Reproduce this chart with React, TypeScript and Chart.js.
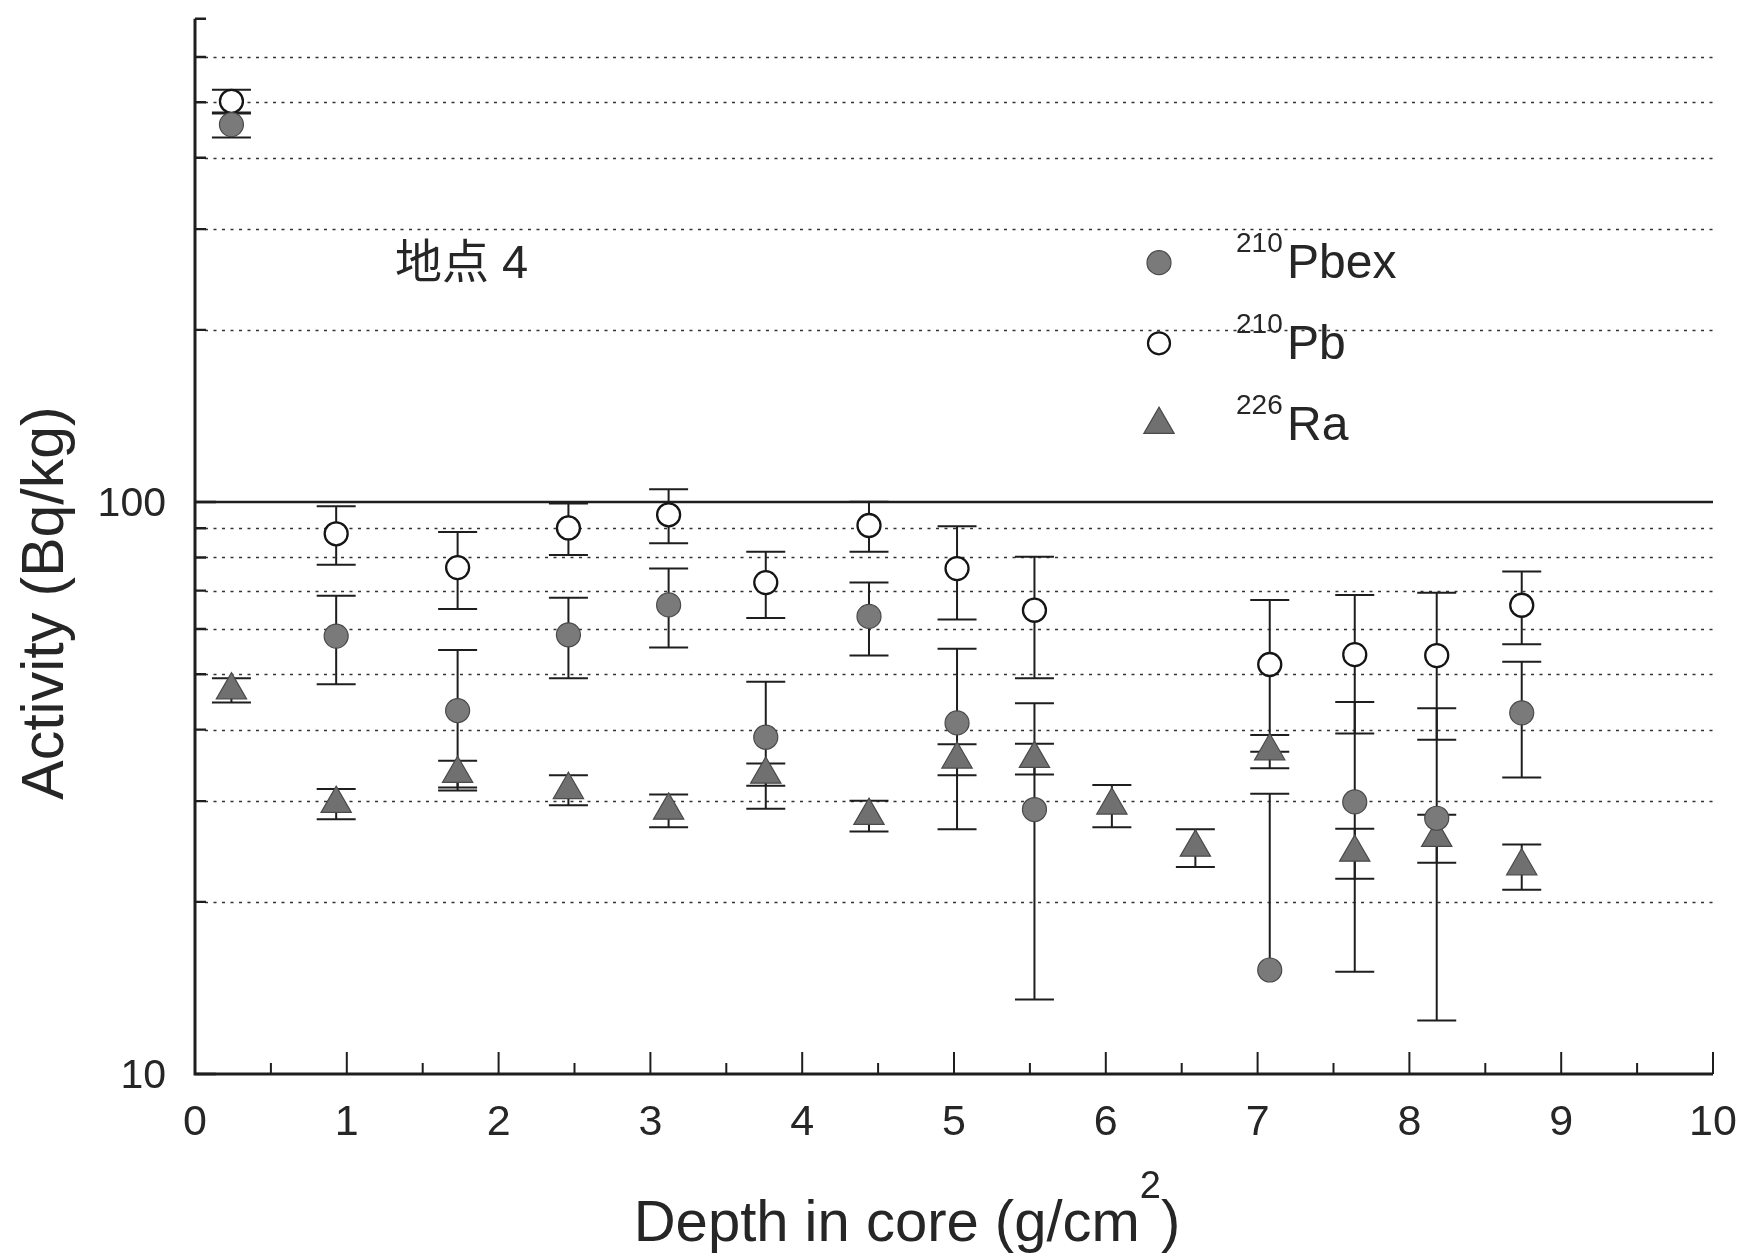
import React, { useEffect, useRef } from 'react';
import { Chart, registerables } from 'chart.js';

Chart.register(...registerables);

// ---- data ----
const depth = [0.24, 0.93, 1.73, 2.46, 3.12, 3.76, 4.44, 5.02, 5.53, 6.04, 6.59, 7.08, 7.64, 8.18, 8.74];
const pbex: (number | null)[] = [457, 58.3, 43.2, 58.6, 66.1, 38.8, 63.1, 41.1, 29.0, null, null, 15.2, 29.9, 28.0, 42.8];
const pbexErr: (number | null)[] = [23, 10.3, 11.9, 9.4, 10.4, 9.7, 9.2, 14.3, 15.5, null, null, 15.7, 14.8, 15.6, 9.8];
const pb: (number | null)[] = [502, 88.0, 76.8, 90.1, 95.0, 72.3, 91.0, 76.5, 64.7, null, null, 52.0, 54.1, 53.9, 66.0];
const pbErr: (number | null)[] = [24, 10.3, 11.8, 9.3, 10.3, 9.6, 9.1, 14.2, 15.5, null, null, 15.4, 14.7, 15.5, 9.6];
const ra: number[] = [46.9, 29.7, 33.5, 31.4, 28.9, 33.4, 28.3, 35.5, 35.6, 29.5, 24.9, 36.7, 24.4, 25.9, 23.1];
const raErr: number[] = [2.3, 1.8, 1.8, 1.9, 1.9, 1.5, 1.75, 2.2, 2.2, 2.5, 1.9, 2.45, 2.45, 2.5, 2.1];

const xMajorTicks = [0, 1, 2, 3, 4, 5, 6, 7, 8, 9, 10];
const xMinorTicks = [0.5, 1.5, 2.5, 3.5, 4.5, 5.5, 6.5, 7.5, 8.5, 9.5];
const yLabelTicks = [10, 100];
const yDottedGrid = [20, 30, 40, 50, 60, 70, 80, 90, 200, 300, 400, 500, 600];
const yMax = 700;

const seriesNames = ['Pbex', 'Pb', 'Ra'];
const seriesSup = ['210', '210', '226'];
const annotation = '地点 4';
const xTitle = 'Depth in core (g/cm';
const xTitleSup = '2';
const yTitle = 'Activity (Bq/kg)';

const FONT = "'Liberation Sans', Arial, Helvetica, sans-serif";
const INK = '#262626';
const FILL_GRAY = '#7a7a7a';
const TRI_GRAY = '#707070';

function build(vals: (number | null)[], errs: (number | null)[]) {
  const out: { x: number; y: number; e: number }[] = [];
  vals.forEach((v, i) => {
    if (v !== null) out.push({ x: depth[i], y: v, e: (errs[i] as number) || 0 });
  });
  return out;
}

function drawTriangle(ctx: CanvasRenderingContext2D, x: number, y: number, r: number) {
  let rad = 0;
  const t = (2 * Math.PI) / 3;
  ctx.beginPath();
  ctx.moveTo(x + Math.sin(rad) * r, y - Math.cos(rad) * r);
  rad += t;
  ctx.lineTo(x + Math.sin(rad) * r, y - Math.cos(rad) * r);
  rad += t;
  ctx.lineTo(x + Math.sin(rad) * r, y - Math.cos(rad) * r);
  ctx.closePath();
}

const decorPlugin = {
  id: 'decor',
  beforeDatasetsDraw(chart: any) {
    const ctx: CanvasRenderingContext2D = chart.ctx;
    const xs = chart.scales.x;
    const ys = chart.scales.y;
    const left = xs.getPixelForValue(0);
    const right = xs.getPixelForValue(10);
    const bottom = ys.getPixelForValue(10);
    const top = ys.getPixelForValue(yMax);
    ctx.save();

    // dotted grid
    ctx.strokeStyle = '#333333';
    ctx.lineWidth = 1.7;
    ctx.setLineDash([3, 5.5]);
    yDottedGrid.forEach((v) => {
      const y = Math.round(ys.getPixelForValue(v)) + 0.5;
      ctx.beginPath();
      ctx.moveTo(left + 10, y);
      ctx.lineTo(right, y);
      ctx.stroke();
    });
    ctx.setLineDash([]);
    // solid 100 line
    ctx.strokeStyle = '#1e1e1e';
    ctx.lineWidth = 2.4;
    const y100 = ys.getPixelForValue(100);
    ctx.beginPath();
    ctx.moveTo(left, y100);
    ctx.lineTo(right, y100);
    ctx.stroke();

    // error bars
    ctx.strokeStyle = '#1e1e1e';
    ctx.lineWidth = 2;
    const cap = 19.5;
    chart.data.datasets.forEach((ds: any) => {
      ds.data.forEach((p: any) => {
        if (!p.e) return;
        const px = xs.getPixelForValue(p.x);
        const hi = ys.getPixelForValue(p.y + p.e);
        const hasLow = p.y - p.e > 0;
        const lo = hasLow ? ys.getPixelForValue(p.y - p.e) : ys.getPixelForValue(p.y);
        ctx.beginPath();
        ctx.moveTo(px, hi);
        ctx.lineTo(px, lo);
        ctx.moveTo(px - cap, hi);
        ctx.lineTo(px + cap, hi);
        if (hasLow) {
          ctx.moveTo(px - cap, lo);
          ctx.lineTo(px + cap, lo);
        }
        ctx.stroke();
      });
    });

    // axes
    ctx.strokeStyle = '#1e1e1e';
    ctx.lineWidth = 3;
    ctx.beginPath();
    ctx.moveTo(left, top);
    ctx.lineTo(left, bottom);
    ctx.lineTo(right, bottom);
    ctx.stroke();

    // y ticks (inward)
    ctx.lineWidth = 2.4;
    ctx.beginPath();
    yDottedGrid.concat([yMax]).forEach((v) => {
      const y = ys.getPixelForValue(v);
      ctx.moveTo(left, y);
      ctx.lineTo(left + 11, y);
    });
    yLabelTicks.forEach((v) => {
      const y = ys.getPixelForValue(v);
      ctx.moveTo(left, y);
      ctx.lineTo(left + 21, y);
    });
    ctx.stroke();
    // x ticks (inward)
    ctx.lineWidth = 2;
    ctx.beginPath();
    xMajorTicks.forEach((v) => {
      if (v === 0) return;
      const x = xs.getPixelForValue(v);
      ctx.moveTo(x, bottom);
      ctx.lineTo(x, bottom - 22);
    });
    xMinorTicks.forEach((v) => {
      const x = xs.getPixelForValue(v);
      ctx.moveTo(x, bottom);
      ctx.lineTo(x, bottom - 11);
    });
    ctx.stroke();
    ctx.restore();
  },
  afterDatasetsDraw(chart: any) {
    const ctx: CanvasRenderingContext2D = chart.ctx;
    const xs = chart.scales.x;
    const ys = chart.scales.y;
    const left = xs.getPixelForValue(0);
    const bottom = ys.getPixelForValue(10);
    ctx.save();
    ctx.fillStyle = INK;

    // tick labels
    ctx.font = `43px ${FONT}`;
    ctx.textAlign = 'center';
    ctx.textBaseline = 'alphabetic';
    xMajorTicks.forEach((v) => {
      ctx.fillText(String(v), xs.getPixelForValue(v), bottom + 61);
    });
    ctx.font = `41px ${FONT}`;
    ctx.textAlign = 'right';
    yLabelTicks.forEach((v) => {
      ctx.fillText(String(v), left - 29, ys.getPixelForValue(v) + 14);
    });

    // x title with superscript
    ctx.textAlign = 'left';
    ctx.font = `58px ${FONT}`;
    const wMain = ctx.measureText(xTitle).width;
    const wParen = ctx.measureText(')').width;
    ctx.font = `38px ${FONT}`;
    const wSup = ctx.measureText(xTitleSup).width;
    const total = wMain + wSup + wParen;
    let tx = 907 - total / 2;
    ctx.font = `58px ${FONT}`;
    ctx.fillText(xTitle, tx, 1241);
    tx += wMain;
    ctx.font = `38px ${FONT}`;
    ctx.fillText(xTitleSup, tx, 1198);
    tx += wSup;
    ctx.font = `58px ${FONT}`;
    ctx.fillText(')', tx, 1241);

    // y title
    ctx.save();
    ctx.translate(63, 603);
    ctx.rotate(-Math.PI / 2);
    ctx.textAlign = 'center';
    ctx.font = `59px ${FONT}`;
    ctx.fillText(yTitle, 0, 0);
    ctx.restore();

    // annotation
    ctx.textAlign = 'left';
    ctx.font = `47px ${FONT}, 'Noto Sans CJK JP'`;
    ctx.fillText(annotation, 395, 278);

    // legend
    const rows = [262.7, 343.3, 424.6];
    const mx = 1159;
    rows.forEach((ry, i) => {
      ctx.save();
      if (i === 0) {
        ctx.beginPath();
        ctx.arc(mx, ry, 12, 0, Math.PI * 2);
        ctx.fillStyle = FILL_GRAY;
        ctx.fill();
        ctx.strokeStyle = '#4a4a4a';
        ctx.lineWidth = 1.2;
        ctx.stroke();
      } else if (i === 1) {
        ctx.beginPath();
        ctx.arc(mx, ry, 11, 0, Math.PI * 2);
        ctx.fillStyle = '#ffffff';
        ctx.fill();
        ctx.strokeStyle = '#151515';
        ctx.lineWidth = 2.2;
        ctx.stroke();
      } else {
        drawTriangle(ctx, mx, ry, 17.5);
        ctx.fillStyle = TRI_GRAY;
        ctx.fill();
        ctx.strokeStyle = '#4a4a4a';
        ctx.lineWidth = 1.2;
        ctx.stroke();
      }
      ctx.restore();
      const base = ry + 15.5;
      ctx.fillStyle = INK;
      ctx.font = `28px ${FONT}`;
      ctx.fillText(seriesSup[i], 1236, base - 26);
      ctx.font = `48px ${FONT}`;
      ctx.fillText(seriesNames[i], 1287, base);
    });
    ctx.restore();
  },
};

export default function App() {
  const ref = useRef<HTMLCanvasElement | null>(null);
  useEffect(() => {
    if (!ref.current) return;
    const chart = new Chart(ref.current, {
      type: 'scatter',
      data: {
        datasets: [
          {
            label: '210Pbex',
            data: build(pbex, pbexErr),
            pointStyle: 'circle',
            pointRadius: 12,
            pointBackgroundColor: FILL_GRAY,
            pointBorderColor: '#4a4a4a',
            pointBorderWidth: 1.2,
            showLine: false,
          },
          {
            label: '210Pb',
            data: build(pb, pbErr),
            pointStyle: 'circle',
            pointRadius: 11.5,
            pointBackgroundColor: '#ffffff',
            pointBorderColor: '#151515',
            pointBorderWidth: 2.3,
            showLine: false,
          },
          {
            label: '226Ra',
            data: build(ra, raErr),
            pointStyle: 'triangle',
            pointRadius: 17.5,
            pointBackgroundColor: TRI_GRAY,
            pointBorderColor: '#4a4a4a',
            pointBorderWidth: 1.2,
            showLine: false,
          },
        ],
      } as any,
      options: {
        animation: false,
        responsive: false,
        layout: { padding: { left: 195, right: 35, top: 13, bottom: 180 } },
        plugins: { legend: { display: false }, tooltip: { enabled: false } },
        events: [],
        scales: {
          x: { type: 'linear', min: 0, max: 10, display: false },
          y: { type: 'logarithmic', min: 10, max: yMax, display: false },
        },
      } as any,
      plugins: [decorPlugin],
    });
    return () => chart.destroy();
  }, []);
  return (
    <div style={{ position: 'absolute', left: 0, top: 0, width: 1748, height: 1254, background: '#fff' }}>
      <canvas ref={ref} width={1748} height={1254} style={{ display: 'block' }} />
    </div>
  );
}
